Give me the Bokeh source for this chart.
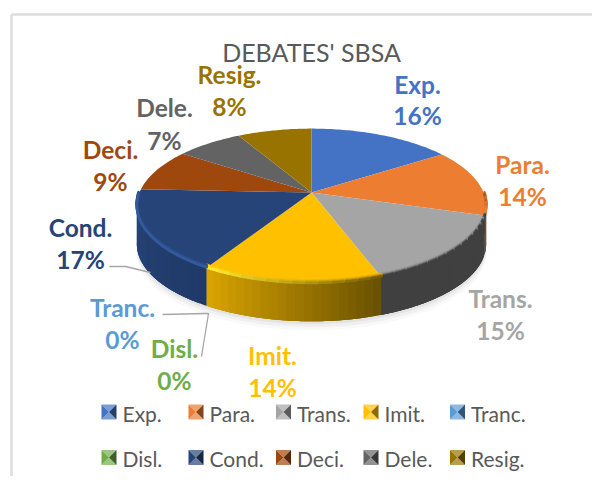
import math
from bokeh.plotting import figure
from bokeh.models import Range1d
from bokeh.core.properties import value
from bokeh.embed import file_html
from bokeh.resources import INLINE

title_text = "DEBATES' SBSA"
categories = ["Exp.", "Para.", "Trans.", "Imit.", "Tranc.", "Disl.", "Cond.", "Deci.", "Dele.", "Resig."]
percents = [15.6, 14.1, 14.8, 14.2, 0, 0, 17.0, 8.9, 7.3, 8.1]
colors = ["#4472C4", "#ED7D31", "#A5A5A5", "#FFC000", "#5B9BD5", "#70AD47", "#264478", "#9E480E", "#636363", "#997300"]
side_left = ["#4472C4", "#8A4A1C", "#404040", "#D9A300", "#5B9BD5", "#70AD47", "#264478", "#9E480E", "#636363", "#997300"]
side_right = ["#2B4A80", "#8A4A1C", "#404040", "#6B5200", "#3A6A90", "#4A7530", "#203A68", "#6A3009", "#404040", "#654C00"]
bevel_left = ["#4472C4", "#ED7D31", "#404040", "#FFEA30", "#5B9BD5", "#70AD47", "#345A9E", "#9E480E", "#636363", "#997300"]
bevel_right = ["#4472C4", "#A05420", "#404040", "#7A5C00", "#5B9BD5", "#70AD47", "#345A9E", "#9E480E", "#636363", "#997300"]
label_pos = [(417, 84, 115), (522, 164, 196), (500, 298, 330), (272, 355, 387),
             (122, 307, 339), (174, 348, 380), (80, 227, 259), (110, 149, 181), (164, 107, 140), (229, 74, 106)]
legend_rows = [411.5, 457]
legend_x = [108.5, 195.5, 283, 370.5, 457]

CX, CY, A, B, K, DEPTH = 311.0, 192.0, 172.0, 75.0, 0.174, 38.0

def rim(theta):
    u, v = math.sin(theta), math.cos(theta)
    d = 1 + K * v
    return CX + A * u / d, CY - B * v / d

def mix(c1, c2, t):
    a = [int(c1[i:i + 2], 16) for i in (1, 3, 5)]
    b = [int(c2[i:i + 2], 16) for i in (1, 3, 5)]
    return "#%02x%02x%02x" % tuple(round(x + (y - x) * t) for x, y in zip(a, b))

p = figure(width=592, height=476, x_range=Range1d(0, 592), y_range=Range1d(476, 0),
           output_backend="svg", toolbar_location=None, min_border=0)
p.axis.visible = False
p.grid.visible = False
p.outline_line_color = None

# chart frame (top and left edges)
p.segment([11, 11], [14, 14], [592, 11], [14, 476], line_color="#DDDDDD", line_width=2.5)

# soft shadow under the pie, front half only
for grow, alpha in ((9, .05), (6, .07), (3, .10)):
    xs, ys = [], []
    for i in range(91):
        x, y = rim(math.pi * .45 + i * 1.1 * math.pi / 90)
        xs.append(x)
        ys.append(y + DEPTH + grow)
    p.patch(xs, ys, fill_color="#808080", fill_alpha=alpha, line_color=None)

# slice boundaries from the values
total = sum(percents)
starts, ends, c = [], [], 0
for v in percents:
    starts.append(c / total * 2 * math.pi)
    c += v
    ends.append(c / total * 2 * math.pi)

# side wall: only the front half is visible
for s, e, lo, hi in zip(starts, ends, side_left, side_right):
    a0, a1 = max(s, math.pi / 2), min(e, 3 * math.pi / 2)
    if a1 <= a0:
        continue
    n = max(2, int((a1 - a0) * 24))
    step = (a1 - a0) / n
    for j in range(n):
        t0 = a0 + step * j
        m = 8
        pts = [rim(min(a1, t0 + step * 3 * q / m)) for q in range(m + 1)]
        xs = [q[0] for q in pts] + [q[0] for q in reversed(pts)]
        ys = [q[1] for q in pts] + [q[1] + DEPTH for q in reversed(pts)]
        col = mix(hi, lo, j / (n - 1))
        p.patch(xs, ys, fill_color=col, line_color=None)

# top face
for s, e, col in zip(starts, ends, colors):
    if e <= s:
        continue
    n = max(2, int((e - s) * 60))
    pts = [rim(s + (e - s) * j / n) for j in range(n + 1)]
    p.patch([CX] + [q[0] for q in pts], [CY] + [q[1] for q in pts], fill_color=col, line_color=None)

# bevel strip along the front of the rim, shading from right to left
for s, e, col, bl, br in zip(starts, ends, colors, bevel_left, bevel_right):
    a0, a1 = max(s, math.radians(92)), min(e, math.radians(268))
    if a1 <= a0:
        continue
    segs = max(2, int((a1 - a0) * 16))
    for g in range(segs):
        b0 = a0 + (a1 - a0) * g / segs
        b1 = a0 + (a1 - a0) * (g + 1) / segs
        bev = mix(br, bl, g / (segs - 1))
        pts = [rim(b0 + (b1 - b0) * j / 6) for j in range(7)]
        for off, t in ((3, .15), (2, .4), (1.2, .7), (.4, 1.0)):
            p.line([q[0] for q in pts], [q[1] - off for q in pts],
                   line_color=mix(col, bev, t), line_width=2.6, line_cap="round")

# leader lines
p.line([109, 125, 150], [266, 266, 272], line_color="#A6A6A6", line_width=1.3)
p.line([162, 205, 208, 201], [314, 313, 313, 356], line_color="#A6A6A6", line_width=1.3)

# title
p.text([311], [51], text=[title_text], text_font=value("Lato"), text_font_size="25px",
       text_color="#595959", text_align="center", text_baseline="middle")

# data labels
for name, pct, col, (x, y0, y1) in zip(categories, percents, colors, label_pos):
    p.text([x, x], [y0, y1], text=[name, f"{pct:.0f}%"], text_font=value("Lato"), text_font_size="24.5px",
           text_font_style="bold", text_color=col, text_align="center", text_baseline="middle")

# legend
for i, (name, col) in enumerate(zip(categories, colors)):
    ly = legend_rows[i // 5]
    lx = legend_x[i % 5]
    S = 7.5
    light = mix(col, "#FFFFFF", .3)
    p.patch([lx - S, lx + S, lx], [ly - S, ly - S, ly], fill_color=light, line_color=None)
    p.patch([lx - S, lx + S, lx], [ly + S, ly + S, ly], fill_color=light, line_color=None)
    p.patch([lx - S, lx - S, lx], [ly - S, ly + S, ly], fill_color=col, line_color=None)
    p.patch([lx + S, lx + S, lx], [ly - S, ly + S, ly], fill_color=mix(col, "#000000", .45), line_color=None)
    p.text([lx + 13.5], [ly + 1], text=[name], text_font=value("Lato"), text_font_size="21px",
           text_color="#595959", text_align="left", text_baseline="middle")

open("out.html", "w").write(file_html(p, INLINE))
